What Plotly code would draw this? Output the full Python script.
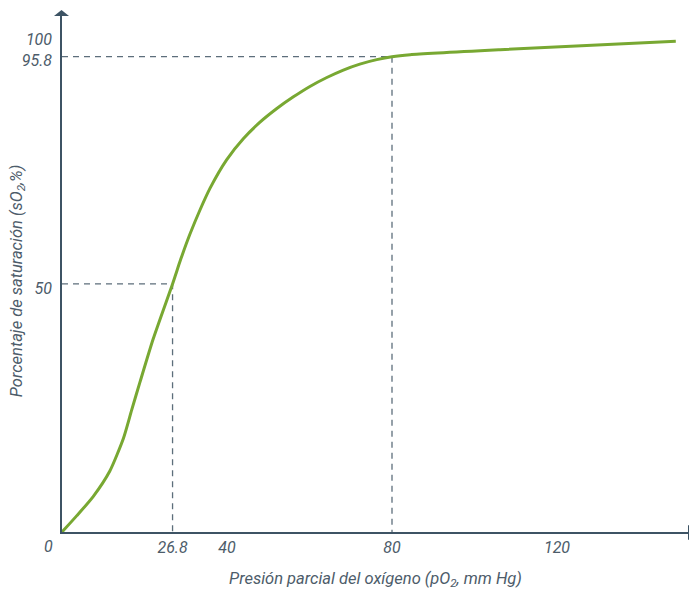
import plotly.graph_objects as go

# Oxygen dissociation curve
po2 = [0, 3.6, 7.6, 11.6, 14.9, 16.9, 18.9, 22.1, 26.8, 27.6, 28.8, 31.0, 33.5, 35.9,
       39.9, 44.0, 48.0, 52.0, 56.1, 60.1, 64.2, 68.2, 72.2, 76.3, 80, 84.4, 106.2, 148.8]
so2 = [0, 3.3, 7.2, 12.3, 18.9, 24.6, 30.2, 38.9, 50, 52.0, 55.0, 60.0, 65.0, 69.3,
       75.0, 79.3, 82.6, 85.3, 87.7, 89.8, 91.6, 93.1, 94.3, 95.2, 95.8, 96.2, 97.2, 98.9]

x_ticks = [26.8, 40, 80, 120]
x_ticklabels = ["26.8", "40", "80", "120"]
y_ticks = [50, 95.8, 100]
y_ticklabels = ["50", "95.8", "100"]

# reference points (P50 and P at 80 mmHg)
ref_x = [26.8, 80]
ref_y = [50, 95.8]

X_MAX = 152
Y_MAX = 104

TEXT = "#4d5c6a"
AXIS = "#3d5364"
GREEN = "#78a832"
DASH = "#5d6e7b"
FONT = "Roboto"

fig = go.Figure()

for rx, ry in zip(ref_x, ref_y):
    fig.add_trace(go.Scatter(x=[0, rx, rx], y=[ry, ry, 0], mode="lines",
                             line=dict(color=DASH, width=1.3, dash="6px,5px"),
                             hoverinfo="skip", showlegend=False))

fig.add_trace(go.Scatter(x=po2, y=so2, mode="lines",
                         line=dict(color=GREEN, width=3, shape="spline", smoothing=0.6),
                         showlegend=False))

# axis arrow heads (paper coordinates)
fig.add_shape(type="path", xref="paper", yref="paper",
              path="M -0.0128,1 L 0.0112,1 L -0.0008,1.0116 Z",
              fillcolor=AXIS, line=dict(width=0))
fig.add_shape(type="path", xref="paper", yref="paper",
              path="M 0.9984,-0.0155 L 0.9984,0.0136 L 1.02,0 Z",
              fillcolor=AXIS, line=dict(width=0))

fig.add_annotation(x=0, y=0, text="0", showarrow=False, xshift=-14, yshift=-14,
                   font=dict(family=FONT, size=16, color=TEXT, style="italic"))

# y-axis title
fig.add_annotation(xref="paper", yref="paper", x=-0.0718, y=0.488, xanchor="center", yanchor="middle",
                   text="Porcentaje de saturación (sO<sub>2</sub>,%)", textangle=-90, showarrow=False,
                   font=dict(family=FONT, size=16.5, color=TEXT, style="italic"))

fig.update_layout(
    width=689, height=592,
    margin=dict(l=62, r=0, t=16, b=60),
    plot_bgcolor="white", paper_bgcolor="white",
    font=dict(family=FONT, size=16, color=TEXT, style="italic"),
    xaxis=dict(range=[0, X_MAX], showgrid=False, zeroline=False, showline=True, automargin=False,
               linecolor=AXIS, linewidth=1.5, tickvals=x_ticks, ticktext=x_ticklabels,
               ticks="", tickfont=dict(family=FONT, size=16, color=TEXT, style="italic"),
               title=dict(text="Presión parcial del oxígeno (pO<sub>2</sub>, mm Hg)",
                          font=dict(family=FONT, size=16.5, color=TEXT, style="italic"), standoff=16)),
    yaxis=dict(range=[0, Y_MAX], showgrid=False, zeroline=False, showline=True, automargin=False,
               linecolor=AXIS, linewidth=1.5, tickvals=y_ticks, ticktext=y_ticklabels,
               ticks="", ticklabelstandoff=5, ticklabelshift=4,
               tickfont=dict(family=FONT, size=16, color=TEXT, style="italic")),
)

fig.write_html("out.html", config={"displayModeBar": False},
               post_script="document.body.style.margin='0';document.body.style.overflow='hidden';")
